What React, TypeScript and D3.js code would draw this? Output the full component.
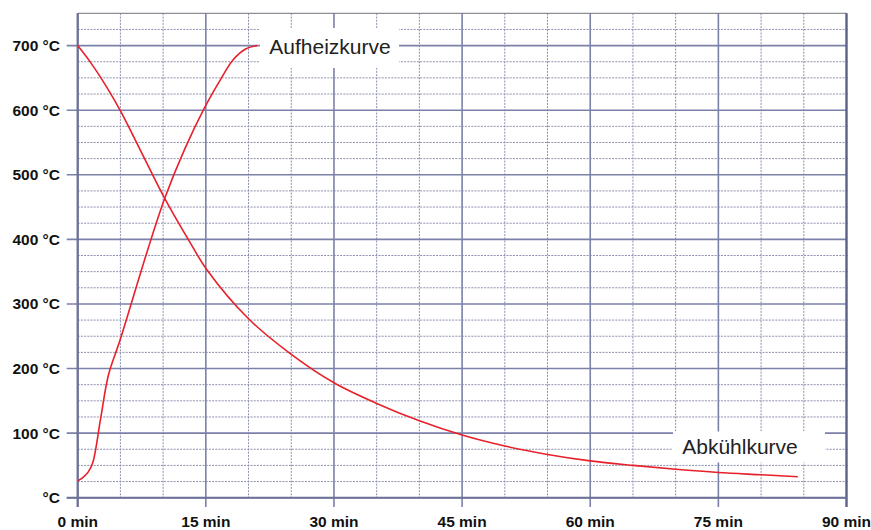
import React from "react";
import * as d3 from "d3";

const xMajor = [0, 15, 30, 45, 60, 75, 90];
const xLabels = ["0 min", "15 min", "30 min", "45 min", "60 min", "75 min", "90 min"];
const yMajor = [0, 100, 200, 300, 400, 500, 600, 700];
const yLabels = ["°C", "100 °C", "200 °C", "300 °C", "400 °C", "500 °C", "600 °C", "700 °C"];

const heatTime = [0, 0.66, 1.24, 1.76, 2.7, 3.6, 4.96, 8.2, 10.2, 12.5, 14.9, 16.7, 18.2, 19.7, 21];
const heatTemp = [26, 32, 40, 54, 124, 190, 244, 384, 464, 539, 605, 647, 678, 695, 700];

const coolTime = [0, 1.5, 3.2, 4.96, 7.3, 10.04, 13.16, 15.12, 20, 25, 30, 35, 40, 45, 50, 55, 60, 65, 70, 75, 80, 84.3];
const coolTemp = [700, 674, 640, 600, 539, 467, 395, 353, 277, 222, 178, 146, 119, 97, 80, 67, 57, 50, 44, 39, 35.5, 32.5];

const labels = ["Aufheizkurve", "Abkühlkurve"];

export default function App() {
  const W = 871, H = 530;
  const x = d3.scaleLinear().domain([0, 90]).range([77.7, 846.5]);
  const y = d3.scaleLinear().domain([0, 750]).range([497.7, 13.3]);

  const xMinor = d3.range(5, 90, 5).filter((v) => v % 15 !== 0);
  const yMinor = d3.range(25, 750, 25).filter((v) => v % 100 !== 0);

  const line = d3
    .line<[number, number]>()
    .x((d) => x(d[0]))
    .y((d) => y(d[1]))
    .curve(d3.curveCatmullRom.alpha(0.5));

  const heat = heatTime.map((t, i) => [t, heatTemp[i]] as [number, number]);
  const cool = coolTime.map((t, i) => [t, coolTemp[i]] as [number, number]);

  const solid = "#7b81a8";
  const dashCol = "#8c8fb0";
  const font = "'Liberation Sans', Arial, Helvetica, sans-serif";

  return (
    <svg
      width={W}
      height={H}
      style={{ position: "absolute", left: 0, top: 0, background: "#fff" }}
      fontFamily={font}
    >
      <rect x={0} y={0} width={W} height={H} fill="#fff" />
      {xMinor.map((v) => (
        <line key={"xm" + v} x1={x(v)} x2={x(v)} y1={y(750)} y2={y(0)} stroke={dashCol} strokeWidth={1} strokeDasharray="2 1.2" />
      ))}
      {yMinor.map((v) => (
        <line key={"ym" + v} x1={x(0)} x2={849} y1={y(v)} y2={y(v)} stroke={dashCol} strokeWidth={1} strokeDasharray="2 1.2" />
      ))}
      {yMajor.map((v) => (
        <line key={"yM" + v} x1={66.7} x2={x(90)} y1={y(v)} y2={y(v)} stroke={solid} strokeWidth={1.6} />
      ))}
      {xMajor.map((v) => (
        <line key={"xM" + v} x1={x(v)} x2={x(v)} y1={y(750)} y2={507} stroke={solid} strokeWidth={1.6} />
      ))}
      <line x1={x(0)} x2={x(90)} y1={y(750)} y2={y(750)} stroke="#70737f" strokeWidth={1} />
      <line x1={x(0)} x2={x(0)} y1={y(750)} y2={507} stroke="#6d7299" strokeWidth={2.2} />
      <line x1={x(90)} x2={x(90)} y1={y(750)} y2={507} stroke="#5d6088" strokeWidth={2.2} />
      <line x1={66.7} x2={x(90)} y1={y(0)} y2={y(0)} stroke="#6d7299" strokeWidth={2} />

      <rect x={260} y={28} width={139} height={40} fill="#fff" />
      <rect x={673} y={431.5} width={152} height={31} fill="#fff" />

      <path d={line(heat) || ""} fill="none" stroke="#e8202a" strokeWidth={1.6} />
      <path d={line(cool) || ""} fill="none" stroke="#e8202a" strokeWidth={1.6} />

      <text x={330} y={53.5} fontSize={21} fill="#222" textAnchor="middle">{labels[0]}</text>
      <text x={740} y={453.5} fontSize={21} fill="#222" textAnchor="middle">{labels[1]}</text>

      {yMajor.map((v, i) => (
        <text key={"yl" + v} x={60} y={y(v) + 5.5} fontSize={15.5} fontWeight="bold" textAnchor="end" fill="#111">
          {yLabels[i]}
        </text>
      ))}
      {xMajor.map((v, i) => (
        <text key={"xl" + v} x={x(v)} y={527} fontSize={15.5} fontWeight="bold" textAnchor="middle" fill="#111">
          {xLabels[i]}
        </text>
      ))}
    </svg>
  );
}
